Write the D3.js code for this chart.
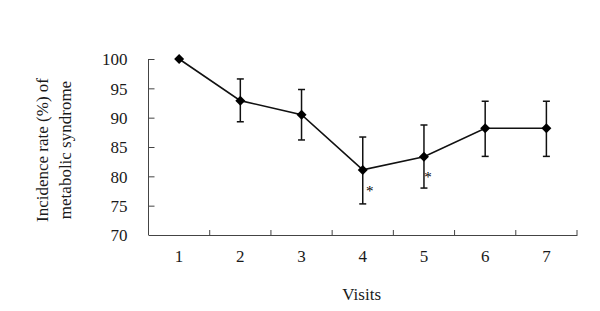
<!DOCTYPE html>
<html><head><meta charset="utf-8">
<script src="https://cdn.jsdelivr.net/npm/d3@7"></script>
<style>body{margin:0;background:#fff}svg{display:block}text{font-family:"Liberation Serif","Times New Roman",serif;fill:#1a1a1a}</style>
</head><body>
<svg id="c" width="600" height="311"></svg>
<script>
const visits = ["1","2","3","4","5","6","7"];
const rates = [100, 92.9, 90.5, 81.1, 83.35, 88.2, 88.2];
const upper = [100, 96.6, 94.8, 86.7, 88.75, 92.8, 92.8];
const lower = [100, 89.3, 86.2, 75.3, 78.0, 83.4, 83.4];
const marks = ["", "", "", "*", "*", "", ""];
const yTicks = [70, 75, 80, 85, 90, 95, 100];

const svg = d3.select("#c");
const x = d3.scaleBand().domain(visits).range([148.5, 577]);
const y = d3.scaleLinear().domain([70, 100]).range([235, 59]);
const cx = d => x(d) + x.bandwidth() / 2;
const FS = "17px";

// y axis
const ya = svg.append("g").attr("transform", "translate(148.5,0)")
  .call(d3.axisRight(y).tickValues(yTicks).tickSize(6).tickFormat(d3.format("d")));
ya.select(".domain").attr("stroke", "#444").attr("stroke-width", 1).attr("d", `M0,${y(100)}V${y(70)}`);
ya.selectAll(".tick line").attr("stroke", "#444");
ya.selectAll(".tick text").attr("x", -21).attr("text-anchor", "end").attr("dy", "0.35em")
  .style("font-size", FS);

// x axis
const xa = svg.append("g").attr("transform", "translate(0,235)")
  .call(d3.axisBottom(x).tickSize(0).tickPadding(20));
xa.select(".domain").attr("stroke", "#444").attr("stroke-width", 1);
xa.selectAll(".tick text").style("font-size", FS).attr("dy", "0.71em").attr("y", 15);
const bounds = visits.slice(1).map(v => x(v)).concat([577]);
xa.selectAll(".bt").data(bounds).enter().append("line").attr("class", "bt")
  .attr("x1", d => d).attr("x2", d => d).attr("y1", 0).attr("y2", -5).attr("stroke", "#444");

// error bars
const data = visits.map((v, i) => ({v, r: rates[i], u: upper[i], l: lower[i], m: marks[i]}));
const eb = svg.append("g").attr("stroke", "#111").attr("stroke-width", 1.5);
data.filter(d => d.u !== d.l).forEach(d => {
  eb.append("line").attr("x1", cx(d.v)).attr("x2", cx(d.v)).attr("y1", y(d.u)).attr("y2", y(d.l));
  eb.append("line").attr("x1", cx(d.v) - 3.5).attr("x2", cx(d.v) + 3.5).attr("y1", y(d.u)).attr("y2", y(d.u));
  eb.append("line").attr("x1", cx(d.v) - 3.5).attr("x2", cx(d.v) + 3.5).attr("y1", y(d.l)).attr("y2", y(d.l));
});

// line
svg.append("path").datum(data).attr("fill", "none").attr("stroke", "#111").attr("stroke-width", 1.6)
  .attr("d", d3.line().x(d => cx(d.v)).y(d => y(d.r)));

// markers
svg.selectAll(".mk").data(data).enter().append("path")
  .attr("transform", d => `translate(${cx(d.v)},${y(d.r)})`)
  .attr("d", "M0,-5L5,0L0,5L-5,0Z").attr("fill", "#000");

// asterisks
const astOff = {"4": [7, 21], "5": [4, 20]};
svg.selectAll(".ast").data(data.filter(d => d.m)).enter().append("text")
  .attr("x", d => cx(d.v) + astOff[d.v][0]).attr("y", d => y(d.r) + astOff[d.v][1] + 5)
  .attr("text-anchor", "middle").style("font-size", "15px").style("fill", "#000").text(d => d.m);

// axis titles
svg.append("text").attr("x", 361.7).attr("y", 300).attr("text-anchor", "middle")
  .style("font-size", FS).text("Visits");
const yl = svg.append("text").attr("transform", "translate(0,150) rotate(-90)")
  .attr("text-anchor", "middle").style("font-size", FS);
yl.append("tspan").attr("x", 0).attr("y", 48).text("Incidence rate (%) of");
yl.append("tspan").attr("x", 0).attr("y", 71).text("metabolic syndrome");
</script>
</body></html>
